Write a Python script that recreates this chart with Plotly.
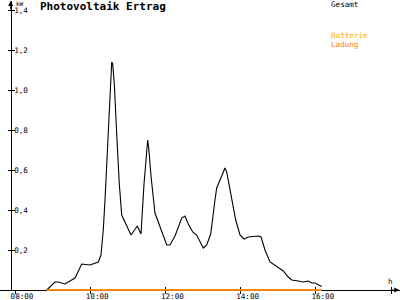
import plotly.graph_objects as go

# Data (hours, kW)
hours = [8.843, 9.064, 9.152, 9.330, 9.596, 9.774, 9.995, 10.215, 10.287, 10.348,
         10.394, 10.439, 10.508, 10.572, 10.598, 10.641, 10.705, 10.774, 10.838, 10.971,
         11.085, 11.253, 11.351, 11.431, 11.503, 11.529, 11.556, 11.617, 11.723, 11.856,
         12.035, 12.122, 12.255, 12.434, 12.521, 12.609, 12.726, 12.832, 12.920, 13.008,
         13.098, 13.205, 13.319, 13.364, 13.497, 13.585, 13.630, 13.763, 13.870, 13.984,
         14.090, 14.205, 14.471, 14.543, 14.649, 14.782, 14.960, 15.136, 15.269, 15.359,
         15.535, 15.668, 15.801, 15.891, 15.979, 16.157]
gesamt = [0.0, 0.04, 0.04, 0.03, 0.06, 0.13, 0.125, 0.14, 0.175, 0.30,
          0.45, 0.635, 0.95, 1.14, 1.13, 1.03, 0.78, 0.53, 0.375, 0.325,
          0.275, 0.32, 0.28, 0.53, 0.70, 0.75, 0.71, 0.57, 0.385, 0.32,
          0.225, 0.225, 0.27, 0.36, 0.37, 0.33, 0.29, 0.275, 0.24, 0.21,
          0.225, 0.28, 0.45, 0.51, 0.57, 0.61, 0.59, 0.46, 0.35, 0.275,
          0.255, 0.265, 0.27, 0.265, 0.20, 0.14, 0.115, 0.095, 0.065, 0.05,
          0.045, 0.04, 0.045, 0.035, 0.035, 0.017]
batterie = [0.0 for _ in hours]
ladung = [0.0 for _ in hours]

x_ticks = [8, 10, 12, 14, 16, 18]
x_labels = ["08:00", "10:00", "12:00", "14:00", "16:00", "18:"]
y_ticks = [0.2, 0.4, 0.6, 0.8, 1.0, 1.2, 1.4]
y_labels = ["0,2", "0,4", "0,6", "0,8", "1,0", "1,2", "1,4"]

MONO = "DejaVu Sans Mono"
W, H = 400, 300
X0 = 8 - 15 / 37.6
X1 = 8 + 385 / 37.6
YPOS = 10.7 / W
YTOP = 1.445
YBOT_DATA = -10 / 200  # data subplot extends 10px below the zero line

fig = go.Figure()
# invisible trace to host the axes subplot (xy) and its overlay (x3y3)
fig.add_trace(go.Scatter(x=[hours[0]], y=[0.5], mode="markers", marker=dict(opacity=0),
                         showlegend=False, hoverinfo="skip"))
fig.add_trace(go.Scatter(x=[hours[0]], y=[0.5], xaxis="x3", yaxis="y3", mode="markers",
                         marker=dict(opacity=0), showlegend=False, hoverinfo="skip"))
# data on subplot x2y2 drawn above axes
fig.add_trace(go.Scatter(x=hours, y=gesamt, mode="lines", line=dict(color="black", width=1.1),
                         name="Gesamt", showlegend=False, xaxis="x2", yaxis="y2"))
fig.add_trace(go.Scatter(x=hours, y=batterie, mode="lines", line=dict(color="#FFB000", width=1.5),
                         name="Batterie", showlegend=False, xaxis="x2", yaxis="y2"))
fig.add_trace(go.Scatter(x=hours, y=ladung, mode="lines", line=dict(color="#FF8000", width=1.5),
                         name="Ladung", showlegend=False, xaxis="x2", yaxis="y2"))

common_x = dict(range=[X0, X1], showgrid=False, zeroline=False, tickvals=x_ticks,
                linecolor="black", linewidth=1, tickcolor="black", tickwidth=1, ticklen=3)
common_y = dict(range=[0, YTOP], showgrid=False, zeroline=False, tickvals=y_ticks,
                linecolor="black", linewidth=1, tickcolor="black", tickwidth=1, ticklen=3,
                domain=[10 / H, 299 / H], anchor="free", position=YPOS)

fig.update_layout(
    width=W, height=H,
    margin=dict(l=0, r=0, t=0, b=0),
    paper_bgcolor="white", plot_bgcolor="rgba(0,0,0,0)",
    showlegend=False,
    xaxis=dict(**common_x, domain=[0, 1], showline=True, ticks="outside", ticktext=x_labels,
               tickfont=dict(family=MONO, size=7.6, color="black"), ticklabelshift=7,
               ticklabelstandoff=-4, anchor="y", automargin=False),
    yaxis=dict(**common_y, showline=True, ticks="outside", showticklabels=False, automargin=False),
    xaxis3=dict(**common_x, showline=False, ticks="inside", showticklabels=False,
                overlaying="x", anchor="y3"),
    yaxis3=dict(**common_y, showline=False, ticks="inside", ticktext=y_labels,
                ticklabelposition="inside", overlaying="y", ticklabelstandoff=-2,
                tickfont=dict(family=MONO, size=7.6, color="black")),
    xaxis2=dict(range=[X0, X1], domain=[0, 1], visible=False, anchor="y2"),
    yaxis2=dict(range=[YBOT_DATA, YTOP], domain=[0, 299 / H], visible=False, anchor="x2"),
)

ann_font = dict(family=MONO, size=7.6)
anns = [
    dict(text="<b>Photovoltaik Ertrag</b>", x=38 / W, y=1 - 7 / H, xanchor="left", yanchor="middle",
         font=dict(family=MONO, size=11, color="black")),
    dict(text="kW", x=14 / W, y=1 - 3 / H, xanchor="left", yanchor="middle",
         font=dict(family=MONO, size=6, color="black")),
    dict(text="Gesamt", x=329 / W, y=1 - 4.5 / H, xanchor="left", yanchor="middle",
         font=dict(**ann_font, color="black")),
    dict(text="Batterie", x=329 / W, y=1 - 35.5 / H, xanchor="left", yanchor="middle",
         font=dict(**ann_font, color="#FFB000")),
    dict(text="Ladung", x=329 / W, y=1 - 44 / H, xanchor="left", yanchor="middle",
         font=dict(**ann_font, color="#FF8000")),
    dict(text="h", x=386 / W, y=1 - 281.5 / H, xanchor="left", yanchor="middle",
         font=dict(**ann_font, color="black")),
]
for a in anns:
    fig.add_annotation(xref="paper", yref="paper", showarrow=False, **a)

# axis arrows
fig.add_annotation(x=X1 - 0.02, y=0, xref="x", yref="y", ax=-10, ay=0, text="", showarrow=True,
                   arrowhead=2, arrowsize=1, arrowwidth=1, arrowcolor="black")
fig.add_annotation(x=8 - 4.3 / 37.6, y=YTOP, xref="x", yref="y", ax=0, ay=10, text="", showarrow=True,
                   arrowhead=2, arrowsize=1, arrowwidth=1, arrowcolor="black")

fig.write_html("out.html")
